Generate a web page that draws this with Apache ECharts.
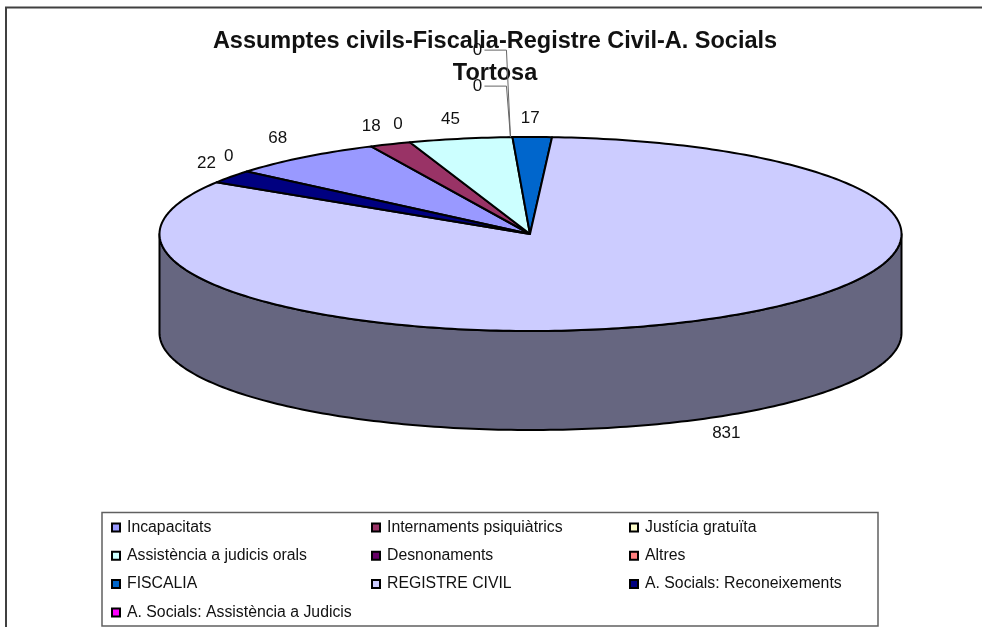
<!DOCTYPE html>
<html>
<head>
<meta charset="utf-8">
<style>html,body{margin:0;padding:0;background:#fff}#c{width:982px;height:627px}</style>
<script src="https://cdn.jsdelivr.net/npm/echarts@6/dist/echarts.min.js"></script>
</head>
<body>
<div id="c"></div>
<script>
// ---- data ----
const categories = ['Incapacitats','Internaments psiquiàtrics','Justícia gratuïta','Assistència a judicis orals','Desnonaments','Altres','FISCALIA','REGISTRE CIVIL','A. Socials: Reconeixements','A. Socials: Assistència a Judicis'];
const values = [68,18,0,45,0,0,17,831,22,0];
const colors = ['#9999FF','#993366','#FFFFCC','#CCFFFF','#660066','#FF8080','#0066CC','#CCCCFF','#000080','#FF00FF'];
const sideColors = ['#4D4D80','#4D1A33','#808066','#668080','#330033','#804040','#003366','#666680','#000040','#800080'];
const titleLines = ['Assumptes civils-Fiscalia-Registre Civil-A. Socials','Tortosa'];
const legendColumns = [[0,3,6,9],[1,4,7],[2,5,8]];

// ---- layout of the tilted pie ----
const PIE = {cx:530.5, cy:234, rx:371, ry:97, depth:99, start:-49.9};
const labelOffsets = [[-26,-19],[-19,-18],[-12,-18],[-10,-19],[-35,-87],[-35,-51],[-2,-19],[26,113],[-24.5,-13],[-18,-15.5]];
const leaders = {4:[[-2,0],[-6,-87],[-28,-87]], 5:[[-2,0],[-6,-51],[-28,-51]]};

const total = values.reduce((a,b)=>a+b,0);
function pt(t,dy){const r=t*Math.PI/180;return [PIE.cx+PIE.rx*Math.sin(r),PIE.cy-PIE.ry*Math.cos(r)+(dy||0)];}
function arc(a,b,dy){const n=Math.max(1,Math.ceil(Math.abs(b-a)));const out=[];for(let i=0;i<=n;i++)out.push(pt(a+(b-a)*i/n,dy));return out;}

function makeRender(idx){
  return function(params,api){
    const val=api.value(0);
    const before=values.slice(0,idx).reduce((a,b)=>a+b,0);
    const a=PIE.start+before/total*360;
    const b=a+val/total*360;
    const kids=[];
    // visible wall: the part of the slice on the front half (90..270 deg)
    const fa=Math.max(a,90),fb=Math.min(b,270);
    if(fb>fa){
      kids.push({type:'polygon',shape:{points:arc(fa,fb,0).concat(arc(fb,fa,PIE.depth))},
        style:{fill:sideColors[idx],stroke:'#000',lineWidth:2,lineJoin:'round'}});
    }
    if(val>0){
      kids.push({type:'polygon',shape:{points:[[PIE.cx-0.5,PIE.cy]].concat(arc(a,b,0))},
        style:{fill:colors[idx],stroke:'#000',lineWidth:2,lineJoin:'round'}});
    }
    const mid=pt((a+b)/2,0);
    if(leaders[idx]){
      kids.push({type:'polyline',shape:{points:leaders[idx].map(o=>[mid[0]+o[0],mid[1]+o[1]])},
        style:{fill:'none',stroke:'#666',lineWidth:1}});
    }
    const o=labelOffsets[idx];
    kids.push({type:'text',style:{text:String(val),x:mid[0]+o[0],y:mid[1]+o[1],align:'center',verticalAlign:'middle',
      font:'17px "Liberation Sans", Arial, sans-serif',fill:'#111'}});
    return {type:'group',children:kids};
  };
}

const series=categories.map((name,i)=>({
  type:'custom',name,coordinateSystem:'none',z:10+i,silent:true,animation:false,
  itemStyle:{color:colors[i]},
  data:[[values[i]]],
  renderItem:makeRender(i)
}));

const legendLefts=[106,366,624];
const legend=legendColumns.map((col,k)=>({
  orient:'vertical',left:legendLefts[k],top:514.5,selectedMode:false,
  data:col.map(i=>({name:categories[i],icon:'rect'})),
  itemWidth:8,itemHeight:8,itemGap:12.3,
  itemStyle:{borderColor:'#000',borderWidth:2},
  textStyle:{fontFamily:'"Liberation Sans", Arial, sans-serif',fontSize:15.8,color:'#111',lineHeight:15,padding:[0,0,0,2]}
}));

const chart=echarts.init(document.getElementById('c'),null,{renderer:'canvas'});
chart.setOption({
  animation:false,
  backgroundColor:'#fff',
  title:{text:titleLines.join('\n'),left:490,top:21,textAlign:'center',
    textStyle:{fontFamily:'"Liberation Sans", Arial, sans-serif',fontWeight:'bold',fontSize:23.5,lineHeight:32,color:'#111'}},
  legend,
  graphic:[
    {type:'polyline',z:1,shape:{points:[[6,627],[6,7.5],[982,7.5]]},style:{fill:'none',stroke:'#404040',lineWidth:2}},
    {type:'rect',z:1,shape:{x:102,y:512.5,width:776,height:113.5},style:{fill:'#fff',stroke:'#606060',lineWidth:1.5}}
  ],
  series
});
</script>
</body>
</html>
